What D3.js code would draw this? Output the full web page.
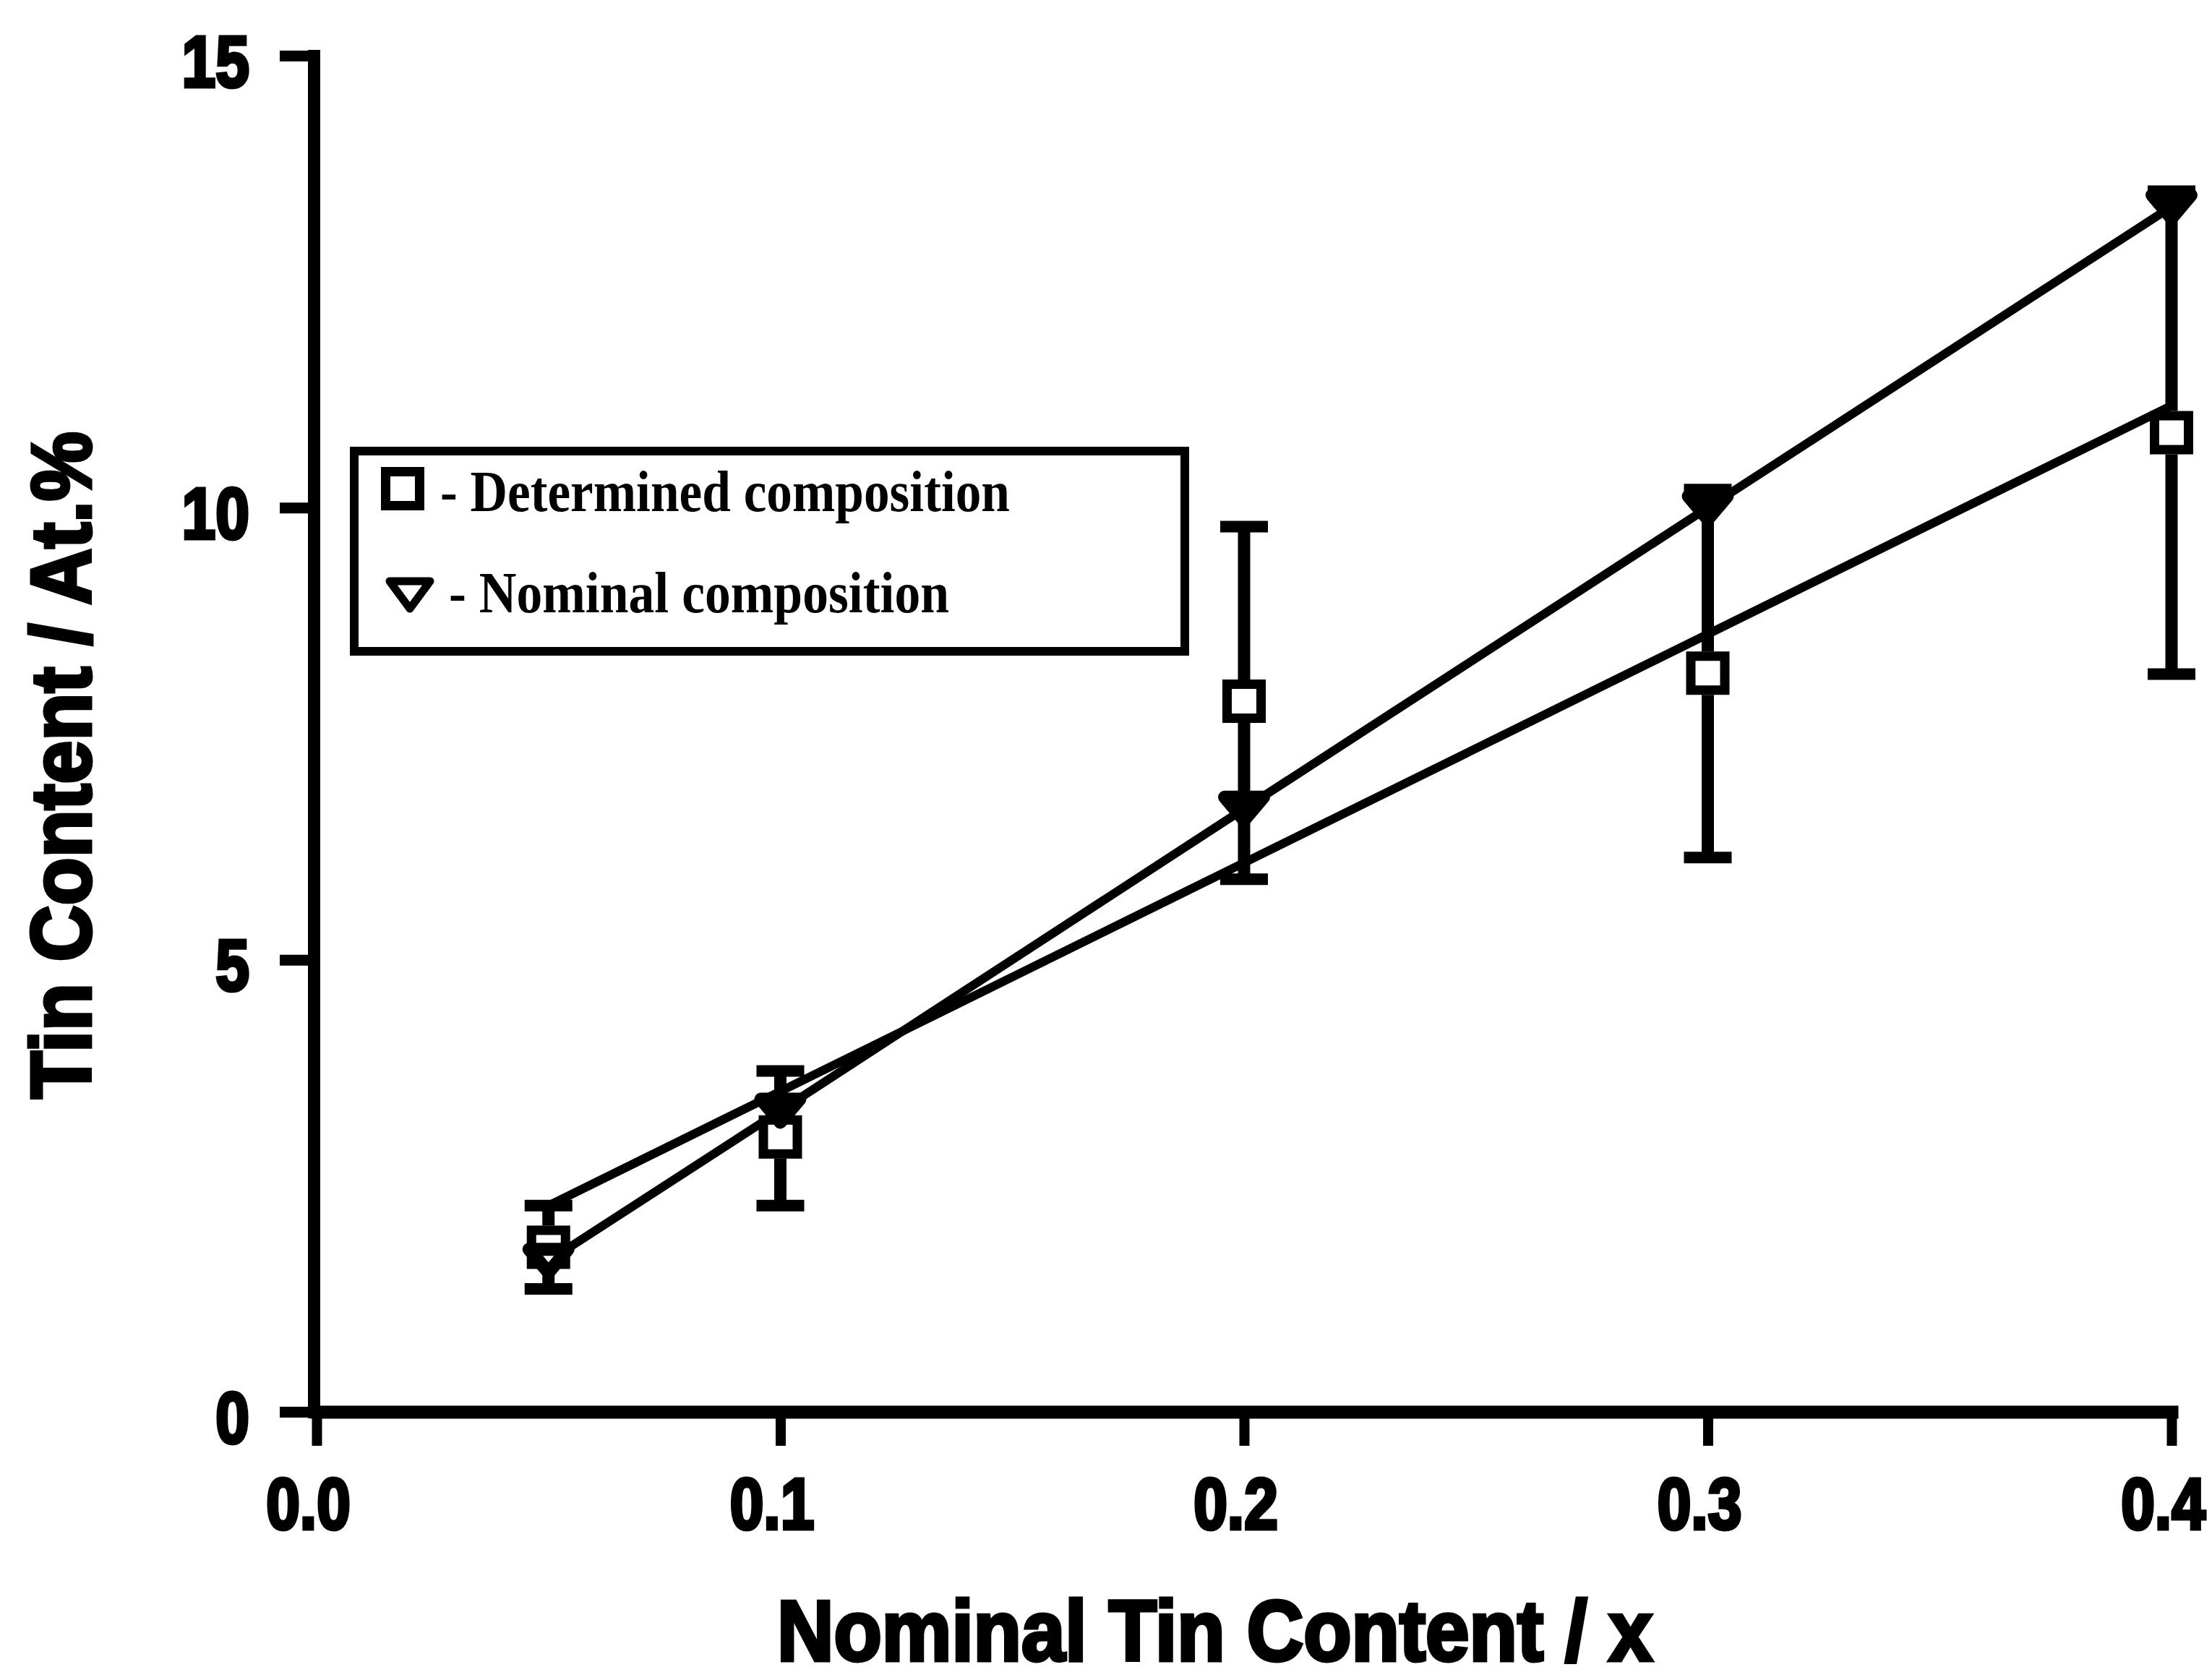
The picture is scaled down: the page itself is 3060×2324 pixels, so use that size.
<!DOCTYPE html>
<html>
<head>
<meta charset="utf-8">
<script src="https://cdn.jsdelivr.net/npm/d3@7"></script>
<style>
  html, body { margin: 0; padding: 0; background: #fff; }
  svg { display: block; }
</style>
</head>
<body>
<script>
// ---------- data ----------
const xTickValues = [0.0, 0.1, 0.2, 0.3, 0.4];
const xTickLabels = ["0.0", "0.1", "0.2", "0.3", "0.4"];
const yTickValues = [0, 5, 10, 15];
const yTickLabels = ["0", "5", "10", "15"];

const nominalX = [0.05, 0.1, 0.2, 0.3, 0.4];
const nominalAt = [1.67, 3.33, 6.67, 10.0, 13.33];

const determinedX = [0.05, 0.1, 0.2, 0.3, 0.4];
const determinedAt = [1.82, 3.04, 7.86, 8.17, 10.83];
const determinedLow = [1.36, 2.28, 5.89, 6.13, 8.16];
const determinedHigh = [2.28, 3.77, 9.79, 10.2, 13.5];

const fitX = [0.05, 0.4];
const fitAt = [2.28, 11.13];

const legendLabels = ["- Determined composition", "- Nominal composition"];
const xTitle = "Nominal Tin Content / x";
const yTitle = "Tin Content / At.%";

// ---------- layout ----------
const W = 3060, H = 2324;
const svg = d3.select("body").append("svg").attr("width", W).attr("height", H);
svg.append("rect").attr("width", W).attr("height", H).attr("fill", "#fff");

const x = d3.scaleLinear().domain([0, 0.4]).range([438, 3004]);
const y = d3.scaleLinear().domain([0, 15]).range([1953, 77]);
const axisX = 434;

const sansFont = "'Liberation Sans', Arial, sans-serif";
const serifFont = "'Liberation Serif', 'Times New Roman', serif";

// ---------- legend ----------
const lg = svg.append("g");
lg.append("rect").attr("x", 490).attr("y", 624).attr("width", 1149).attr("height", 277)
  .attr("fill", "#fff").attr("stroke", "#000").attr("stroke-width", 12);

const sq = 47, sqStroke = 13;
const triLegend = "M-28,-19L28,-19L0,19Z";
const triData = "M-27,-16L27,-16L0,16Z";

lg.append("rect").attr("x", 557 - sq / 2).attr("y", 676 - sq / 2).attr("width", sq).attr("height", sq)
  .attr("fill", "#fff").attr("stroke", "#000").attr("stroke-width", sqStroke);
lg.append("path").attr("d", triLegend).attr("transform", "translate(567,823)")
  .attr("fill", "#fff").attr("stroke", "#000").attr("stroke-width", 11).attr("stroke-linejoin", "round");

lg.append("text").attr("x", 609).attr("y", 707).text(legendLabels[0])
  .attr("font-family", serifFont).attr("font-weight", "bold").attr("font-size", 80)
  .attr("textLength", 788).attr("lengthAdjust", "spacingAndGlyphs").attr("fill", "#000");
lg.append("text").attr("x", 621).attr("y", 847).text(legendLabels[1])
  .attr("font-family", serifFont).attr("font-weight", "bold").attr("font-size", 80)
  .attr("textLength", 692).attr("lengthAdjust", "spacingAndGlyphs").attr("fill", "#000");

// ---------- lines ----------
const line = d3.line().x(d => x(d[0])).y(d => y(d[1]));
svg.append("path").datum(fitX.map((v, i) => [v, fitAt[i]]))
  .attr("d", line).attr("fill", "none").attr("stroke", "#000").attr("stroke-width", 12)
  .attr("stroke-linecap", "round");
svg.append("path").datum(nominalX.map((v, i) => [v, nominalAt[i]]))
  .attr("d", line).attr("fill", "none").attr("stroke", "#000").attr("stroke-width", 12)
  .attr("stroke-linecap", "round").attr("stroke-linejoin", "round");

// ---------- markers ----------
const det = determinedX.map((v, i) => ({ x: v, v: determinedAt[i], lo: determinedLow[i], hi: determinedHigh[i] }));

svg.append("g").selectAll("rect").data(det).join("rect")
  .attr("x", d => x(d.x) - sq / 2).attr("y", d => y(d.v) - sq / 2)
  .attr("width", sq).attr("height", sq)
  .attr("fill", "#fff").attr("stroke", "#000").attr("stroke-width", sqStroke);

svg.append("g").selectAll("path").data(nominalX.map((v, i) => [v, nominalAt[i]])).join("path")
  .attr("d", triData).attr("transform", d => `translate(${x(d[0])},${y(d[1])})`)
  .attr("fill", "#fff").attr("stroke", "#000").attr("stroke-width", 18).attr("stroke-linejoin", "round");

// ---------- error bars ----------
const eb = svg.append("g").attr("stroke", "#000");
const half = (sq + sqStroke) / 2;
eb.selectAll("line.up").data(det).join("line")
  .attr("x1", d => x(d.x)).attr("x2", d => x(d.x))
  .attr("y1", d => y(d.hi)).attr("y2", d => y(d.v) - half).attr("stroke-width", 17);
eb.selectAll("line.dn").data(det).join("line")
  .attr("x1", d => x(d.x)).attr("x2", d => x(d.x))
  .attr("y1", d => y(d.v) + half).attr("y2", d => y(d.lo)).attr("stroke-width", 17);
eb.selectAll("line.capHi").data(det).join("line")
  .attr("x1", d => x(d.x) - 33).attr("x2", d => x(d.x) + 33)
  .attr("y1", d => y(d.hi)).attr("y2", d => y(d.hi)).attr("stroke-width", 16);
eb.selectAll("line.capLo").data(det).join("line")
  .attr("x1", d => x(d.x) - 33).attr("x2", d => x(d.x) + 33)
  .attr("y1", d => y(d.lo)).attr("y2", d => y(d.lo)).attr("stroke-width", 16);

// ---------- axes ----------
const yAxis = d3.axisLeft(y).tickValues(yTickValues).tickFormat((d, i) => yTickLabels[i])
  .tickSize(47).tickSizeOuter(0);
const gy = svg.append("g").attr("transform", `translate(${axisX},0)`).call(yAxis);
gy.select(".domain").attr("stroke", "#000").attr("stroke-width", 17).attr("stroke-linecap", "square");
gy.selectAll(".tick line").attr("stroke", "#000").attr("stroke-width", 15);
gy.selectAll(".tick text")
  .attr("x", 0).attr("y", 0).attr("dy", null)
  .attr("transform", "translate(-89,42) scale(0.84,1)")
  .attr("text-anchor", "end")
  .attr("font-family", sansFont).attr("font-weight", "bold").attr("font-size", 100)
  .attr("fill", "#000").attr("stroke", "#000").attr("stroke-width", 5);

const xAxis = d3.axisBottom(x).tickValues(xTickValues).tickFormat((d, i) => xTickLabels[i])
  .tickSize(47).tickSizeOuter(0);
const gx = svg.append("g").attr("transform", `translate(0,${y(0)})`).call(xAxis);
gx.select(".domain").attr("stroke", "#000").attr("stroke-width", 18).attr("stroke-linecap", "square");
gx.selectAll(".tick line").attr("stroke", "#000").attr("stroke-width", 14);
gx.selectAll(".tick text")
  .attr("x", 0).attr("y", 0).attr("dy", null)
  .attr("transform", "translate(-12,162) scale(0.84,1)")
  .attr("text-anchor", "middle")
  .attr("font-family", sansFont).attr("font-weight", "bold").attr("font-size", 100)
  .attr("fill", "#000").attr("stroke", "#000").attr("stroke-width", 5);

// ---------- titles ----------
svg.append("text").attr("x", 1075).attr("y", 2297).text(xTitle)
  .attr("font-family", sansFont).attr("font-weight", "bold").attr("font-size", 118)
  .attr("textLength", 1211).attr("lengthAdjust", "spacingAndGlyphs")
  .attr("fill", "#000").attr("stroke", "#000").attr("stroke-width", 5);

svg.append("text").attr("transform", "translate(125,1520) rotate(-90)").text(yTitle)
  .attr("font-family", sansFont).attr("font-weight", "bold").attr("font-size", 116)
  .attr("textLength", 923).attr("lengthAdjust", "spacingAndGlyphs")
  .attr("fill", "#000").attr("stroke", "#000").attr("stroke-width", 5);
</script>
</body>
</html>
